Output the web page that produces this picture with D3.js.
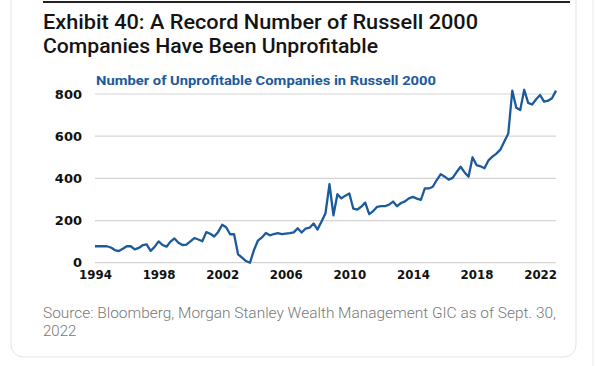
<!DOCTYPE html>
<html>
<head>
<meta charset="utf-8">
<script src="https://cdn.jsdelivr.net/npm/d3@7"></script>
<style>
  html, body { margin: 0; padding: 0; background: #fff; }
  svg { display: block; }
</style>
</head>
<body>
<svg id="chart" width="610" height="366"></svg>
<script>
// Quarterly number of unprofitable companies in the Russell 2000, 1994 Q1 onward
const values = [78,78,78,78,72,60,55,66,78,78,
  63,70,83,87,56,75,101,84,76,100,
  115,95,84,86,101,117,110,102,145,137,
  124,146,180,168,135,135,40,24,8,0,
  60,105,120,141,130,136,140,136,138,140,
  144,163,143,162,166,186,157,195,235,372,
  225,325,305,318,328,256,252,265,285,230,
  245,265,268,268,275,290,268,283,291,305,
  312,304,298,352,352,360,392,420,408,394,
  402,430,455,428,408,500,463,457,448,485,
  503,517,536,575,613,816,735,724,820,758,
  750,775,795,764,768,780,816];
const startYear = 1994;
const dates = values.map((_, i) => startYear + i / 4);
const xTicks = [1994, 1998, 2002, 2006, 2010, 2014, 2018, 2022];
const yTicks = [0, 200, 400, 600, 800];
const titleLines = ["Exhibit 40: A Record Number of Russell 2000", "Companies Have Been Unprofitable"];
const subtitle = "Number of Unprofitable Companies in Russell 2000";
const sourceLines = ["Source: Bloomberg, Morgan Stanley Wealth Management GIC as of Sept. 30,", "2022"];

const svg = d3.select("#chart");

// card
svg.append("rect").attr("x", 11).attr("y", -20).attr("width", 565).attr("height", 377)
  .attr("rx", 12).attr("fill", "#fff").attr("stroke", "#dfe4e8").attr("stroke-width", 1);
svg.append("line").attr("x1", 593).attr("x2", 593).attr("y1", 0).attr("y2", 366)
  .attr("stroke", "#e8e8e8").attr("stroke-width", 1);
svg.append("line").attr("x1", 43).attr("x2", 570).attr("y1", 2).attr("y2", 2)
  .attr("stroke", "#222").attr("stroke-width", 2.2);

// title
const titleWidths = [435, 335];
titleLines.forEach((t, i) => {
  svg.append("text").attr("x", 43).attr("y", 29 + i * 23.5)
    .attr("font-family", "Roboto, 'Noto Sans', sans-serif").attr("font-weight", 500)
    .attr("font-size", 21).attr("fill", "#141414")
    .attr("textLength", titleWidths[i]).attr("lengthAdjust", "spacingAndGlyphs")
    .text(t);
});

const x = d3.scaleLinear().domain([1994, 2023]).range([95, 556]);
const y = d3.scaleLinear().domain([0, 800]).range([262.7, 94]);

// gridlines
svg.append("g").selectAll("line").data(yTicks).join("line")
  .attr("x1", 95).attr("x2", 556)
  .attr("y1", d => y(d)).attr("y2", d => y(d))
  .attr("stroke", "#d4d4d4").attr("stroke-width", 1.2);

// y axis labels
const yAxis = d3.axisLeft(y).tickValues(yTicks).tickSize(0).tickPadding(0).tickFormat(d3.format("d"));
const gy = svg.append("g").attr("transform", "translate(82,0)").call(yAxis);
gy.select(".domain").remove();
gy.selectAll("text").attr("font-family", "'DejaVu Sans', sans-serif").attr("font-weight", "bold")
  .attr("font-size", 13).attr("fill", "#111");

// x axis labels
const xAxis = d3.axisBottom(x).tickValues(xTicks).tickSize(0).tickPadding(0).tickFormat(d3.format("d"));
const gx = svg.append("g").attr("transform", "translate(0,271)").call(xAxis);
gx.select(".domain").remove();
gx.selectAll("text").attr("font-family", "'DejaVu Sans', sans-serif").attr("font-weight", "bold")
  .attr("font-size", 11.8).attr("fill", "#111");

// subtitle
svg.append("text").attr("x", 96).attr("y", 85)
  .attr("font-family", "Roboto, 'Noto Sans', sans-serif").attr("font-weight", 700)
  .attr("font-size", 13.5).attr("fill", "#1c5a9c")
  .attr("textLength", 340).attr("lengthAdjust", "spacingAndGlyphs")
  .text(subtitle);

// line
const line = d3.line().x((d, i) => x(dates[i])).y(d => y(d));
svg.append("path").datum(values).attr("d", line)
  .attr("fill", "none").attr("stroke", "#1c5a9c").attr("stroke-width", 2.3)
  .attr("stroke-linejoin", "round");

// source
const srcWidths = [513, null];
sourceLines.forEach((t, i) => {
  const tx = svg.append("text").attr("x", 43).attr("y", 318 + i * 18)
    .attr("font-family", "Roboto, 'Noto Sans', sans-serif").attr("font-weight", 300)
    .attr("font-size", 15).attr("fill", "#777")
    .text(t);
  if (srcWidths[i]) tx.attr("textLength", srcWidths[i]).attr("lengthAdjust", "spacingAndGlyphs");
});
</script>
</body>
</html>
